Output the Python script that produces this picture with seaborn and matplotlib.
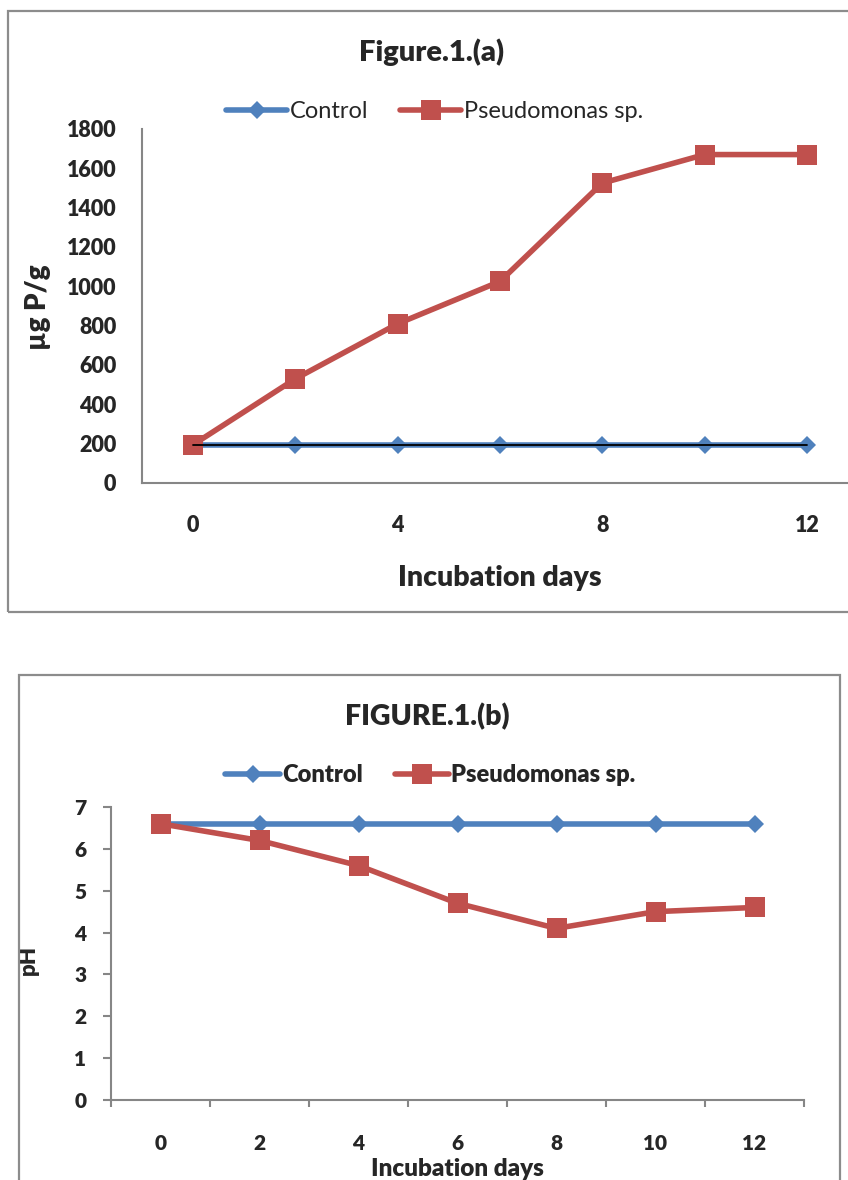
import matplotlib
matplotlib.use('Agg')
import matplotlib.pyplot as plt
import seaborn as sns
from matplotlib.patches import Rectangle
from matplotlib.ticker import FixedLocator

# ---------------- data ----------------
days_a = [0, 2, 4, 6, 8, 10, 12]
control_a = [195, 195, 195, 195, 195, 195, 195]
pseudo_a = [195, 530, 810, 1025, 1525, 1670, 1670]
xticks_a = [0, 4, 8, 12]
yticks_a = [0, 200, 400, 600, 800, 1000, 1200, 1400, 1600, 1800]

days_b = ['0', '2', '4', '6', '8', '10', '12']
control_b = [6.6, 6.6, 6.6, 6.6, 6.6, 6.6, 6.6]
pseudo_b = [6.6, 6.2, 5.6, 4.7, 4.1, 4.5, 4.6]
yticks_b = [0, 1, 2, 3, 4, 5, 6, 7]

series_names = ['Control', 'Pseudomonas sp.']
title_a = 'Figure.1.(a)'
title_b = 'FIGURE.1.(b)'
xlabel = 'Incubation days'
ylabel_a = 'µg P/g'
ylabel_b = 'pH'

# ---------------- style ----------------
sns.set_style('white')
plt.rcParams['font.family'] = ['Lato', 'DejaVu Sans']
BOLD = 'heavy'

BLUE = '#4F81BD'
RED = '#C0504D'
GRAY = '#868686'
W, H = 848, 1180

fig = plt.figure(figsize=(W / 100, H / 100), dpi=100)


def px_ax(l, t, r, b):
    return fig.add_axes([l / W, 1 - b / H, (r - l) / W, (b - t) / H])


# outer frames of the two chart panels
fig.patches.append(Rectangle((8 / W, 1 - 612 / H), 860 / W, 601 / H,
                             transform=fig.transFigure, fill=False,
                             ec='#8c8c8c', lw=1.6))
fig.patches.append(Rectangle((19 / W, 1 - 1195 / H), 821 / W, 520 / H,
                             transform=fig.transFigure, fill=False,
                             ec='#8c8c8c', lw=1.6))

# ---------------- panel (a) ----------------
ax1 = px_ax(142, 129, 858, 483)
ax1.set_facecolor('none')
sns.lineplot(x=days_a, y=control_a, ax=ax1, color=BLUE, marker='D',
             markersize=9.2, linewidth=4, markeredgewidth=0,
             label=series_names[0], zorder=3)
sns.lineplot(x=days_a, y=pseudo_a, ax=ax1, color=RED, marker='s',
             markersize=14, linewidth=4, markeredgewidth=0,
             label=series_names[1], zorder=4)
sns.lineplot(x=days_a, y=control_a, ax=ax1, color='black', linewidth=1.3,
             zorder=5)
handles_a, labels_a = ax1.get_legend_handles_labels()
if ax1.get_legend() is not None:
    ax1.get_legend().remove()

ax1.set_xlim(-1, 13)
ax1.set_ylim(0, 1800)
ax1.set_xticks(xticks_a)
ax1.set_yticks(yticks_a)
ax1.tick_params(axis='both', length=0, labelsize=15.5)
ax1.tick_params(axis='x', pad=23)
ax1.tick_params(axis='y', pad=18.5)
for lbl in ax1.get_xticklabels() + ax1.get_yticklabels():
    lbl.set_fontweight(BOLD)
for s in ['top', 'right']:
    ax1.spines[s].set_visible(False)
for s in ['left', 'bottom']:
    ax1.spines[s].set_color(GRAY)
    ax1.spines[s].set_linewidth(1.5)
ax1.grid(False)

ax1.set_xlabel(xlabel, fontsize=20.5, fontweight=BOLD)
ax1.xaxis.set_label_coords(0.5, (483 - 578) / 354)
ax1.xaxis.label.set_va('center')
ax1.set_ylabel(ylabel_a, fontsize=20, fontweight=BOLD)
ax1.yaxis.set_label_coords((38 - 142) / 716, (483 - 307) / 354)
ax1.yaxis.label.set_va('center')

fig.text(432 / W, 1 - 52 / H, title_a, ha='center', va='center',
         fontsize=21, fontweight=BOLD)
fig.legend(handles_a, labels_a, loc='center',
           bbox_to_anchor=(434.5 / W, 1 - 112 / H), ncol=2, frameon=False,
           handlelength=2.6, handletextpad=0.1, columnspacing=1.35,
           prop={'size': 17})

# ---------------- panel (b) ----------------
ax2 = px_ax(111, 807, 804, 1100)
ax2.set_facecolor('none')
sns.pointplot(x=days_b, y=control_b, ax=ax2, color=BLUE, markers='D',
              linestyles='-', errorbar=None, markersize=9.2, linewidth=4,
              markeredgewidth=0, zorder=3)
sns.pointplot(x=days_b, y=pseudo_b, ax=ax2, color=RED, markers='s',
              linestyles='-', errorbar=None, markersize=14, linewidth=4,
              markeredgewidth=0, zorder=4)
if ax2.get_legend() is not None:
    ax2.get_legend().remove()

ax2.set_xlim(-0.5, 6.5)
ax2.set_ylim(0, 7)
ax2.set_yticks(yticks_b)
ax2.xaxis.set_minor_locator(FixedLocator([i - 0.5 for i in range(len(days_b) + 1)]))
ax2.tick_params(axis='x', which='major', length=0, pad=24.5, labelsize=15)
ax2.tick_params(axis='x', which='minor', length=5, width=1.5, color=GRAY,
                direction='out', bottom=True)
ax2.tick_params(axis='y', length=5.8, width=1.5, color=GRAY, direction='out',
                pad=12, labelsize=15, left=True)
for lbl in ax2.get_xticklabels() + ax2.get_yticklabels():
    lbl.set_fontweight(BOLD)
for s in ['top', 'right']:
    ax2.spines[s].set_visible(False)
for s in ['left', 'bottom']:
    ax2.spines[s].set_color(GRAY)
    ax2.spines[s].set_linewidth(1.5)
ax2.grid(False)

ax2.set_xlabel(xlabel, fontsize=17.5, fontweight=BOLD)
ax2.xaxis.set_label_coords(0.5, (1100 - 1169) / 293)
ax2.xaxis.label.set_va('center')
ax2.set_ylabel(ylabel_b, fontsize=16, fontweight=BOLD)
ax2.yaxis.set_label_coords((28 - 111) / 693, (1100 - 960) / 293)
ax2.yaxis.label.set_va('center')

fig.text(427 / W, 1 - 717 / H, title_b, ha='center', va='center',
         fontsize=20.5, fontweight=BOLD)

# legend for panel (b): same series styling as panel (a)
fig.legend(handles_a, labels_a, loc='center',
           bbox_to_anchor=(430.5 / W, 1 - 775 / H), ncol=2,
           frameon=False, handlelength=2.3, handletextpad=0.1,
           columnspacing=1.35, prop={'size': 17, 'weight': BOLD})

fig.savefig('out.png', dpi=100)
